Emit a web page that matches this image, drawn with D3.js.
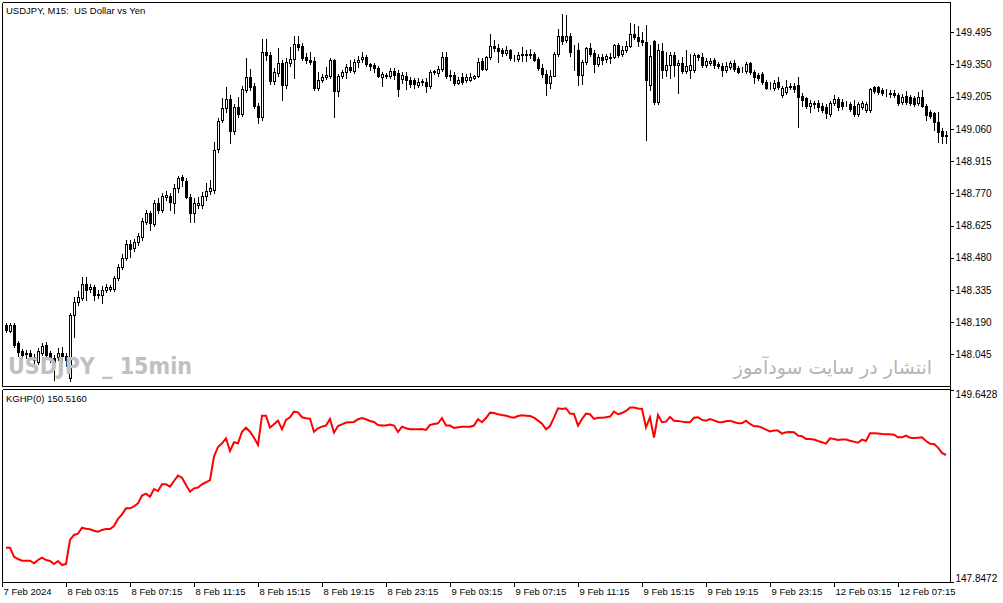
<!DOCTYPE html>
<html>
<head>
<meta charset="utf-8">
<script src="https://cdn.jsdelivr.net/npm/d3@7"></script>
<style>
  body { margin: 0; background: #fff; }
  svg { display: block; }
  text { font-family: "Liberation Sans", Arial, sans-serif; font-size: 10px; fill: #000; }
</style>
</head>
<body>
<svg id="chart" width="1003" height="603"></svg>
<script>
// USDJPY M15 candles, 7 Feb 23:30 .. 12 Feb 09:45
const open = [
  148.178,148.151,148.178,148.097,148.061,148.052,148.052,148.034,148.011,148.052,
  148.088,148.052,148.029,148.034,148.052,148.038,147.939,148.223,148.281,148.299,
  148.362,148.340,148.349,148.317,148.313,148.335,148.340,148.340,148.389,148.439,
  148.479,148.542,148.524,148.551,148.574,148.641,148.682,148.632,148.727,148.695,
  148.754,148.758,148.727,148.794,148.844,148.826,148.754,148.682,148.718,148.718,
  148.758,148.781,148.785,148.970,149.100,149.154,149.195,149.051,149.159,149.127,
  149.235,149.294,149.253,149.163,149.114,149.406,149.393,149.276,149.312,149.357,
  149.258,149.357,149.375,149.442,149.433,149.384,149.370,149.366,149.244,149.280,
  149.294,149.298,149.370,149.231,149.298,149.316,149.339,149.321,149.361,149.375,
  149.384,149.352,149.348,149.334,149.294,149.298,149.298,149.321,149.312,149.285,
  149.298,149.280,149.280,149.258,149.276,149.271,149.253,149.316,149.312,149.330,
  149.384,149.303,149.303,149.267,149.294,149.280,149.280,149.289,149.298,149.366,
  149.330,149.384,149.433,149.424,149.415,149.402,149.415,149.379,149.375,149.393,
  149.397,149.397,149.397,149.375,149.334,149.307,149.267,149.298,149.397,149.478,
  149.460,149.478,149.415,149.415,149.303,149.361,149.424,149.402,149.352,149.384,
  149.375,149.384,149.384,149.438,149.397,149.415,149.433,149.487,149.474,149.460,
  149.451,149.258,149.456,149.181,149.411,149.325,149.348,149.393,149.348,149.357,
  149.321,149.325,149.325,149.393,149.384,149.348,149.357,149.370,149.352,149.343,
  149.325,149.339,149.357,149.334,149.325,149.321,149.357,149.316,149.303,149.307,
  149.271,149.253,149.244,149.271,149.213,149.226,149.253,149.253,149.258,149.208,
  149.199,149.163,149.177,149.177,149.163,149.159,149.127,149.177,149.195,149.181,
  149.172,149.172,149.163,149.127,149.159,149.145,149.145,149.249,149.249,149.235,
  149.226,149.222,149.222,149.213,149.181,149.208,149.204,149.199,149.177,149.204,
  149.163,149.136,149.132,149.091,149.051,149.033
];
const high = [
  148.187,148.187,148.187,148.106,148.070,148.065,148.065,148.047,148.074,148.097,
  148.101,148.061,148.043,148.074,148.079,148.052,148.232,148.304,148.331,148.394,
  148.394,148.362,148.358,148.335,148.353,148.362,148.358,148.398,148.452,148.497,
  148.560,148.560,148.564,148.591,148.659,148.695,148.691,148.740,148.749,148.772,
  148.781,148.772,148.812,148.848,148.853,148.839,148.767,148.749,148.754,148.776,
  148.817,148.830,149.001,149.109,149.199,149.249,149.213,149.172,149.204,149.253,
  149.379,149.330,149.267,149.177,149.465,149.465,149.406,149.334,149.424,149.370,
  149.379,149.429,149.478,149.478,149.447,149.402,149.406,149.384,149.316,149.307,
  149.339,149.379,149.375,149.307,149.325,149.352,149.370,149.375,149.388,149.406,
  149.393,149.357,149.357,149.343,149.316,149.312,149.334,149.334,149.325,149.316,
  149.316,149.294,149.289,149.289,149.285,149.289,149.325,149.325,149.343,149.406,
  149.406,149.325,149.316,149.294,149.312,149.307,149.312,149.303,149.379,149.379,
  149.388,149.487,149.460,149.442,149.424,149.433,149.420,149.393,149.406,149.429,
  149.415,149.420,149.406,149.384,149.352,149.325,149.325,149.406,149.510,149.577,
  149.573,149.492,149.438,149.447,149.370,149.429,149.447,149.415,149.397,149.397,
  149.397,149.402,149.442,149.447,149.433,149.456,149.537,149.532,149.523,149.496,
  149.528,149.438,149.460,149.442,149.447,149.406,149.406,149.406,149.370,149.384,
  149.415,149.397,149.402,149.397,149.402,149.379,149.379,149.379,149.361,149.357,
  149.361,149.366,149.370,149.343,149.339,149.361,149.361,149.325,149.312,149.316,
  149.280,149.271,149.280,149.294,149.253,149.280,149.267,149.267,149.294,149.222,
  149.204,149.190,149.186,149.190,149.177,149.172,149.186,149.213,149.204,149.195,
  149.186,149.181,149.190,149.181,149.186,149.181,149.244,149.253,149.253,149.244,
  149.240,149.235,149.235,149.222,149.217,149.231,149.213,149.208,149.226,149.235,
  149.172,149.145,149.136,149.136,149.064,149.051
];
const low = [
  148.146,148.146,148.079,148.038,148.029,148.029,148.025,148.007,148.002,148.043,
  148.034,148.011,147.930,148.020,148.011,147.993,147.925,148.124,148.268,148.290,
  148.290,148.326,148.290,148.299,148.277,148.326,148.331,148.331,148.380,148.430,
  148.470,148.484,148.511,148.538,148.560,148.632,148.605,148.623,148.682,148.686,
  148.740,148.695,148.682,148.776,148.803,148.749,148.641,148.641,148.704,148.704,
  148.740,148.767,148.772,148.956,149.091,149.136,148.997,149.037,149.114,149.118,
  149.226,149.235,149.154,149.087,149.100,149.370,149.262,149.262,149.298,149.190,
  149.244,149.343,149.289,149.415,149.370,149.357,149.352,149.235,149.235,149.271,
  149.285,149.289,149.114,149.208,149.289,149.289,149.316,149.312,149.339,149.361,
  149.343,149.325,149.316,149.294,149.253,149.289,149.289,149.285,149.208,149.267,
  149.240,149.249,149.244,149.249,149.258,149.226,149.244,149.307,149.298,149.321,
  149.289,149.280,149.258,149.262,149.262,149.271,149.276,149.285,149.294,149.325,
  149.325,149.375,149.411,149.361,149.388,149.393,149.370,149.366,149.366,149.366,
  149.366,149.379,149.366,149.325,149.294,149.213,149.244,149.298,149.388,149.442,
  149.451,149.388,149.325,149.258,149.262,149.352,149.388,149.316,149.343,149.352,
  149.361,149.357,149.379,149.384,149.388,149.406,149.429,149.465,149.433,149.438,
  149.010,149.235,149.172,149.172,149.289,149.298,149.289,149.298,149.222,149.312,
  149.312,149.289,149.316,149.370,149.339,149.339,149.348,149.334,149.334,149.298,
  149.316,149.330,149.321,149.312,149.316,149.312,149.307,149.267,149.280,149.262,
  149.240,149.240,149.235,149.240,149.204,149.217,149.240,149.226,149.069,149.163,
  149.154,149.136,149.154,149.141,149.136,149.109,149.118,149.168,149.145,149.150,
  149.163,149.141,149.118,149.118,149.150,149.136,149.136,149.222,149.217,149.213,
  149.208,149.204,149.204,149.168,149.172,149.172,149.168,149.163,149.168,149.159,
  149.100,149.109,149.055,149.001,148.997,148.997
];
const close = [
  148.155,148.178,148.088,148.056,148.043,148.047,148.038,148.020,148.061,148.083,
  148.043,148.029,148.011,148.052,148.038,148.020,148.223,148.281,148.304,148.362,
  148.335,148.349,148.313,148.313,148.335,148.349,148.349,148.389,148.439,148.479,
  148.542,148.520,148.551,148.578,148.646,148.682,148.637,148.727,148.695,148.758,
  148.763,148.731,148.794,148.839,148.830,148.754,148.682,148.727,148.727,148.758,
  148.781,148.794,148.965,149.096,149.154,149.195,149.051,149.159,149.127,149.240,
  149.294,149.249,149.163,149.114,149.406,149.393,149.276,149.316,149.357,149.258,
  149.361,149.375,149.442,149.429,149.379,149.370,149.361,149.244,149.280,149.294,
  149.303,149.370,149.231,149.298,149.316,149.339,149.325,149.361,149.370,149.384,
  149.352,149.343,149.334,149.298,149.307,149.303,149.321,149.303,149.240,149.303,
  149.280,149.262,149.262,149.271,149.271,149.253,149.316,149.321,149.330,149.384,
  149.298,149.298,149.267,149.280,149.271,149.294,149.294,149.298,149.361,149.330,
  149.384,149.433,149.424,149.411,149.402,149.415,149.379,149.377,149.393,149.397,
  149.393,149.393,149.370,149.334,149.307,149.267,149.298,149.397,149.478,149.456,
  149.478,149.406,149.413,149.303,149.361,149.424,149.397,149.352,149.384,149.370,
  149.388,149.381,149.438,149.393,149.415,149.433,149.487,149.474,149.456,149.451,
  149.280,149.388,149.181,149.415,149.325,149.348,149.393,149.348,149.357,149.321,
  149.343,149.348,149.393,149.384,149.348,149.366,149.366,149.348,149.343,149.325,
  149.343,149.357,149.330,149.316,149.323,149.352,149.316,149.294,149.289,149.271,
  149.244,149.251,149.267,149.249,149.244,149.249,149.249,149.240,149.204,149.190,
  149.163,149.177,149.174,149.159,149.145,149.132,149.177,149.195,149.159,149.163,
  149.170,149.150,149.127,149.172,149.177,149.172,149.240,149.231,149.226,149.222,
  149.224,149.219,149.213,149.177,149.204,149.181,149.177,149.172,149.204,149.163,
  149.123,149.118,149.091,149.046,149.028,149.028
];
// KGHP(0) indicator, one value per bar
const kghp = [
  148.168,148.168,148.084,148.062,148.047,148.047,148.047,148.022,148.053,148.075,
  148.053,148.044,148.016,148.044,148.006,148.016,148.240,148.287,148.299,148.355,
  148.346,148.340,148.327,148.318,148.334,148.343,148.343,148.371,148.437,148.480,
  148.536,148.536,148.555,148.583,148.655,148.673,148.645,148.717,148.698,148.761,
  148.761,148.739,148.792,148.842,148.823,148.754,148.692,148.723,148.730,148.761,
  148.780,148.801,149.020,149.110,149.144,149.191,149.073,149.154,149.144,149.253,
  149.291,149.253,149.197,149.129,149.403,149.403,149.291,149.322,149.356,149.275,
  149.363,149.388,149.440,149.434,149.388,149.378,149.375,149.253,149.285,149.300,
  149.310,149.372,149.244,149.306,149.322,149.338,149.341,149.344,149.369,149.381,
  149.369,149.353,149.344,149.316,149.310,149.310,149.319,149.310,149.250,149.300,
  149.285,149.275,149.275,149.275,149.278,149.269,149.316,149.325,149.331,149.381,
  149.310,149.310,149.288,149.294,149.300,149.300,149.300,149.310,149.369,149.341,
  149.381,149.431,149.428,149.416,149.409,149.403,149.391,149.384,149.400,149.406,
  149.403,149.400,149.384,149.356,149.328,149.275,149.306,149.384,149.472,149.465,
  149.472,149.422,149.419,149.310,149.372,149.422,149.416,149.372,149.384,149.384,
  149.388,149.394,149.440,149.416,149.428,149.447,149.478,149.478,149.469,149.465,
  149.294,149.388,149.197,149.409,149.341,149.347,149.391,149.356,149.353,149.347,
  149.341,149.341,149.384,149.388,149.363,149.356,149.372,149.359,149.344,149.341,
  149.350,149.356,149.344,149.331,149.331,149.356,149.325,149.303,149.303,149.291,
  149.272,149.256,149.263,149.263,149.235,149.247,149.250,149.247,149.216,149.210,
  149.185,149.185,149.179,149.166,149.154,149.141,149.191,149.185,149.175,149.179,
  149.179,149.169,149.160,149.150,149.179,149.166,149.238,149.238,149.235,149.231,
  149.228,149.228,149.225,149.200,149.200,149.216,149.197,149.194,149.197,149.200,
  149.166,149.141,149.138,149.104,149.054,149.035
];
const priceTicks = [149.495, 149.350, 149.205, 149.060, 148.915, 148.770, 148.625, 148.480, 148.335, 148.190, 148.045];
const kghpTicks = [149.6428, 147.8472];
const timeLabels = ['7 Feb 2024', '8 Feb 03:15', '8 Feb 07:15', '8 Feb 11:15', '8 Feb 15:15', '8 Feb 19:15',
  '8 Feb 23:15', '9 Feb 03:15', '9 Feb 07:15', '9 Feb 11:15', '9 Feb 15:15', '9 Feb 19:15',
  '9 Feb 23:15', '12 Feb 03:15', '12 Feb 07:15'];
const timeBars = [-1, 15, 31, 47, 63, 79, 95, 111, 127, 143, 159, 175, 191, 207, 223];

const width = 1003, height = 603;
const left = 2, right = 950;
const mainTop = 2, mainBottom = 386;
const indTop = 389, indBottom = 582;

const svg = d3.select('#chart');
svg.append('rect').attr('width', width).attr('height', height).attr('fill', '#fff');

const x = d3.scaleLinear().domain([0, close.length - 1]).range([6, 946]);
const y = d3.scaleLinear().domain([147.903, 149.631]).range([mainBottom, mainTop]);
const yInd = d3.scaleLinear().domain([147.8472, 149.6428]).range([indBottom, 390]);

const px = v => Math.round(v) + 0.5;

// pane frames
const frame = svg.append('g').attr('stroke', '#000').attr('shape-rendering', 'crispEdges');
[[left, mainTop, right, mainTop], [left, mainBottom, right, mainBottom],
 [left, indTop, right, indTop], [left, indBottom, right, indBottom],
 [left, mainTop, left, mainBottom], [left, indTop, left, indBottom],
 [right, mainTop, right, indBottom]].forEach(l => {
  frame.append('line').attr('x1', px(l[0])).attr('y1', px(l[1])).attr('x2', px(l[2])).attr('y2', px(l[3]));
});

// candles
const bars = d3.range(close.length);
const candles = svg.append('g').attr('shape-rendering', 'crispEdges');
candles.selectAll('line')
  .data(bars)
  .join('line')
  .attr('x1', i => px(x(i))).attr('x2', i => px(x(i)))
  .attr('y1', i => Math.round(y(high[i])))
  .attr('y2', i => Math.round(y(low[i])) + 1)
  .attr('stroke', '#000');
candles.selectAll('rect')
  .data(bars)
  .join('rect')
  .attr('x', i => Math.round(x(i)) - 0.5)
  .attr('y', i => Math.round(y(Math.max(open[i], close[i]))) + 0.5)
  .attr('width', 2)
  .attr('height', i => Math.round(Math.abs(y(open[i]) - y(close[i]))))
  .attr('fill', i => close[i] >= open[i] ? '#fff' : '#000')
  .attr('stroke', '#000');

// indicator line
const line = d3.line().x((d, i) => x(i)).y(d => yInd(d));
svg.append('path')
  .datum(kghp)
  .attr('d', line)
  .attr('fill', 'none')
  .attr('stroke', '#ff0000')
  .attr('stroke-width', 2);

// price axis
const priceAxis = svg.append('g')
  .attr('transform', `translate(${right + 0.5},0)`)
  .call(d3.axisRight(y).tickValues(priceTicks).tickSize(3).tickPadding(2).tickFormat(d3.format('.3f')));
priceAxis.select('.domain').remove();
priceAxis.selectAll('text').style('font-size', '10px').attr('font-family', null);

const indAxis = svg.append('g')
  .attr('transform', `translate(${right + 0.5},0)`)
  .call(d3.axisRight(yInd).tickValues(kghpTicks).tickSize(3).tickPadding(2).tickFormat(d3.format('.4f')));
indAxis.select('.domain').remove();
indAxis.selectAll('text').attr('dy', (d, k) => k === 0 ? '0.75em' : '-0.1em').attr('font-family', null);

// time axis
const timeAxis = svg.append('g')
  .attr('transform', `translate(0,${indBottom + 0.5})`)
  .call(d3.axisBottom(x).tickValues(timeBars).tickSize(4).tickPadding(2)
    .tickFormat((d, k) => timeLabels[k]));
timeAxis.select('.domain').remove();
timeAxis.selectAll('text').attr('text-anchor', 'start').attr('x', 1).attr('font-family', null)
  .style('font-size', '9.5px');
svg.selectAll('.tick line').attr('shape-rendering', 'crispEdges');

// labels
svg.append('text').attr('x', 6).attr('y', 14).style('font-size', '9.5px')
  .style('white-space', 'pre').text('USDJPY, M15:  US Dollar vs Yen');
svg.append('text').attr('x', 6).attr('y', 402).style('font-size', '9.5px')
  .text('KGHP(0) 150.5160');

// watermarks
svg.append('text').attr('x', 8).attr('y', 374)
  .attr('textLength', 184).attr('lengthAdjust', 'spacingAndGlyphs')
  .style('font-family', '"DejaVu Sans", sans-serif')
  .style('font-weight', 'bold').style('font-size', '23px').style('fill', '#c0c0c0')
  .style('white-space', 'pre')
  .text('USDJPY _ 15min');
svg.append('text').attr('x', 932).attr('y', 374).attr('text-anchor', 'end')
  .style('font-family', '"DejaVu Sans", sans-serif')
  .style('font-size', '19px').style('fill', '#b4b4b4')
  .text('انتشار در سایت سودآموز');
</script>
</body>
</html>
